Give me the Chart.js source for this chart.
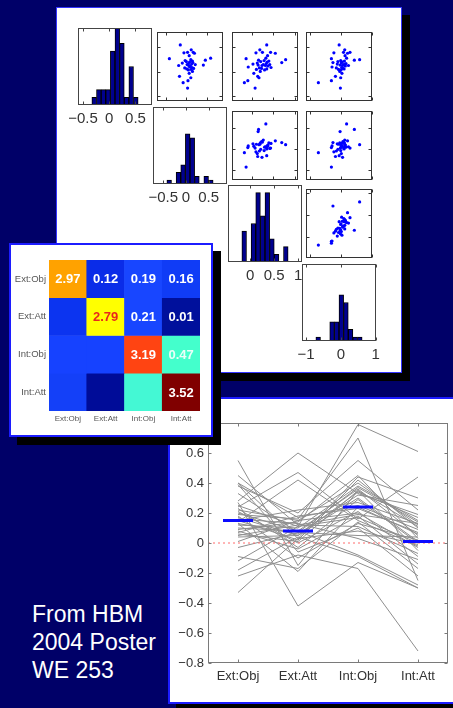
<!DOCTYPE html>
<html>
<head>
<meta charset="utf-8">
<script src="https://cdn.jsdelivr.net/npm/chart.js@4.4.0/dist/chart.umd.min.js"></script>
<style>
  html, body { margin: 0; padding: 0; }
  body { width: 453px; height: 708px; background: #000068; position: relative; overflow: hidden;
         font-family: "Liberation Sans", Arial, sans-serif; }
  .panel { position: absolute; background: #fff; box-sizing: border-box; box-shadow: 8px 8px 0 #000; }
  canvas { position: absolute; }
  #note { position: absolute; left: 32px; top: 600px; color: #fff; font-size: 23px; line-height: 28px; }
</style>
</head>
<body>
<div class="panel" id="matrixPanel" style="left:56px;top:7px;width:346px;height:366px;border:1px solid #3434ff"></div>
<div class="panel" id="linePanel" style="left:168px;top:397px;width:300px;height:307px;border:2px solid #1c1cff"></div>
<div class="panel" id="heatPanel" style="left:9px;top:243px;width:204px;height:194px;border:2px solid #1c1cff"></div>
<div id="note">From HBM<br>2004 Poster<br>WE 253</div>
<script>
// conditions
const condLabels = ['Ext:Obj', 'Ext:Att', 'Int:Obj', 'Int:Att'];

// one value per subject and condition
const extObj = [0.55, 0.45, 0.40, 0.40, 0.39, 0.38, 0.33, 0.28, 0.27, 0.25, 0.24, 0.23, 0.22, 0.21, 0.20, 0.19, 0.18, 0.17, 0.16, 0.15,
                0.15, 0.14, 0.13, 0.13, 0.12, 0.10, 0.09, 0.08, 0.07, 0.06, 0.05, 0.04, 0.01, -0.03, -0.09, -0.12, -0.18, -0.22, -0.33];
const extAtt = [-0.15, 0.12, 0.03, 0.17, -0.06, 0.20, 0.07, 0.60, -0.42, 0.11, 0.47, -0.03, 0.15, 0.00, 0.08, 0.16, -0.10, 0.05, 0.13, 0.22,
                0.02, 0.42, 0.06, -0.19, 0.10, 0.08, 0.14, -0.04, 0.18, 0.01, 0.12, 0.05, 0.15, 0.07, -0.17, 0.11, 0.04, -0.08, 0.03];
const intObj = [0.35, 0.19, 0.44, 0.25, 0.10, 0.55, 0.37, 0.33, -0.13, 0.79, 0.16, 0.29, 0.40, 0.21, 0.36, 0.70, 0.13, 0.34, 0.03, 0.27,
                0.42, 0.15, 0.32, 0.24, 0.38, -0.08, 0.45, 0.18, 0.23, 0.35, 0.11, 0.30, 0.20, 0.05, 0.14, 0.17, -0.09, -0.17, 0.08];
const intAtt = [-0.05, 0.13, 0.30, 0.09, -0.22, 0.22, 0.14, 0.19, -0.30, 0.61, 0.44, 0.00, 0.12, -0.09, 0.05, -0.25, 0.02, 0.17, -0.11, 0.13,
                0.10, -0.02, 0.25, 0.06, 0.15, -0.28, 0.03, -0.14, 0.07, 0.11, -0.07, 0.01, -0.03, 0.04, -0.17, 0.00, -0.30, -0.72, -0.01];

// histogram counts (10 bins over each condition's range)
const histExtObj = [1, 2, 2, 2, 7, 10, 8, 1, 5, 1];
const histExtAtt = [1, 0, 3, 5, 13, 12, 2, 0, 2, 1];
const histIntObj = [4, 0, 5, 9, 6, 9, 3, 1, 0, 2];
const histIntAtt = [1, 0, 0, 5, 5, 12, 10, 3, 1, 1];

// group means (blue bars)
const meanValues = [0.15, 0.08, 0.24, 0.01];

// matrix shown in the coloured table
const covValues = [
  [2.97, 0.12, 0.19, 0.16],
  [0.12, 2.79, 0.21, 0.01],
  [0.19, 0.21, 3.19, 0.47],
  [0.16, 0.01, 0.47, 3.52]
];

// styles
const cellColors = [
  ['#ffa200', '#0a2ce8', '#1846ff', '#103cf6'],
  ['#0c34f0', '#ffff00', '#1846ff', '#00109c'],
  ['#1642ff', '#1642ff', '#ff4412', '#44ffcc'],
  ['#1440f8', '#000c98', '#44f8d4', '#800000']
];
const cellTextColors = [
  ['#fff', '#fff', '#fff', '#fff'],
  ['#fff', '#e8281c', '#fff', '#fff'],
  ['#fff', '#fff', '#fff', '#eafff8'],
  ['#fff', '#fff', '#fff', '#fff']
];
const tickSteps = [0.5, 0.5, 0.5, 1];
const histTop = [10, 20, 10, 20];

const conds = [extObj, extAtt, intObj, intAtt];
const hists = [histExtObj, histExtAtt, histIntObj, histIntAtt];

Chart.defaults.font.family = '"Liberation Sans", Arial, sans-serif';

function addCanvas(before, left, top, w, h) {
  const c = document.createElement('canvas');
  c.width = w;
  c.height = h;
  c.style.left = left + 'px';
  c.style.top = top + 'px';
  c.style.width = w + 'px';
  c.style.height = h + 'px';
  document.body.insertBefore(c, before);
  return c;
}

function baseOptions() {
  return {
    responsive: false,
    animation: false,
    events: [],
    devicePixelRatio: 1,
    plugins: { legend: { display: false }, tooltip: { enabled: false } }
  };
}

function fmt(v) {
  const r = Math.round(v * 100) / 100;
  return (r < 0 ? '\u2212' : '') + Math.abs(r);
}

// ticks on every multiple of step inside the axis limits
function stepTicks(step) {
  return function (scale) {
    const out = [];
    for (let k = Math.ceil(scale.min / step - 1e-9); k * step <= scale.max + 1e-9; k++) {
      out.push({ value: Math.round(k * step * 1e6) / 1e6 });
    }
    scale.ticks = out;
  };
}

// axis box with small inward tick marks, like matlab
function frame(color, markX, markY) {
  return {
    id: 'frame',
    afterDatasetsDraw(chart) {
      const ctx = chart.ctx;
      const a = chart.chartArea;
      const L = Math.round(a.left) + 0.5, R = Math.round(a.right) - 0.5;
      const T = Math.round(a.top) + 0.5, B = Math.round(a.bottom) - 0.5;
      ctx.save();
      ctx.strokeStyle = color;
      ctx.lineWidth = 1;
      ctx.strokeRect(L, T, R - L, B - T);
      ctx.beginPath();
      if (markX) {
        chart.scales.x.ticks.forEach(t => {
          const x = Math.round(chart.scales.x.getPixelForValue(t.value)) + 0.5;
          ctx.moveTo(x, T); ctx.lineTo(x, T + 3);
          ctx.moveTo(x, B); ctx.lineTo(x, B - 3);
        });
      }
      if (markY) {
        chart.scales.y.ticks.forEach(t => {
          const y = Math.round(chart.scales.y.getPixelForValue(t.value)) + 0.5;
          ctx.moveTo(L, y); ctx.lineTo(L + 3, y);
          ctx.moveTo(R, y); ctx.lineTo(R - 3, y);
        });
      }
      ctx.stroke();
      ctx.restore();
    }
  };
}

// ---------- scatter plot matrix ----------
const lims = conds.map(a => {
  const lo = Math.min(...a), hi = Math.max(...a), pad = (hi - lo) * 0.3;
  return [lo - pad, hi + pad];
});

function hiddenAxis(k) {
  return {
    type: 'linear',
    min: lims[k][0],
    max: lims[k][1],
    ticks: { display: false },
    grid: { display: false, drawTicks: false },
    border: { display: false },
    afterBuildTicks: stepTicks(tickSteps[k]),
    afterFit: s => { if (s.isHorizontal()) s.height = 0; else s.width = 0; }
  };
}

const colLeft = [78, 153, 228, 302];
const rowTop = [28, 107, 185, 264];
const cellW = 74, cellH = 77, padX = 24;
const linePanel = document.getElementById('linePanel');

for (let i = 0; i < 4; i++) {
  // histogram on the diagonal
  const arr = conds[i];
  const lo = Math.min(...arr), hi = Math.max(...arr), w = (hi - lo) / 10;
  const hc = addCanvas(linePanel, colLeft[i] - padX, rowTop[i], cellW + 2 * padX, cellH + 26);
  const hOpts = baseOptions();
  hOpts.layout = { padding: { left: padX, right: padX, top: 0, bottom: 0 } };
  hOpts.scales = {
    x: {
      type: 'linear', offset: false, min: lims[i][0], max: lims[i][1],
      ticks: { color: '#333', padding: 5, font: { size: 15 }, maxRotation: 0, autoSkip: false, callback: v => fmt(v) },
      grid: { display: false, drawTicks: false },
      border: { display: false },
      afterBuildTicks: stepTicks(tickSteps[i]),
      afterFit: s => { s.height = 26; }
    },
    y: {
      min: 0, max: histTop[i],
      ticks: { display: false },
      grid: { display: false, drawTicks: false },
      border: { display: false },
      afterFit: s => { s.width = 0; }
    }
  };
  new Chart(hc, {
    type: 'bar',
    data: {
      datasets: [{
        data: hists[i].map((c, b) => ({ x: lo + (b + 0.5) * w, y: c })),
        backgroundColor: '#00008f',
        borderColor: '#000',
        borderWidth: 1,
        borderSkipped: false,
        barPercentage: 1,
        categoryPercentage: 1
      }]
    },
    options: hOpts,
    plugins: [frame('#444', true, false)]
  });

  // scatter plots above the diagonal
  for (let j = i + 1; j < 4; j++) {
    const sc = addCanvas(linePanel, colLeft[j], rowTop[i], cellW, cellH);
    const sOpts = baseOptions();
    sOpts.layout = { padding: 0 };
    sOpts.scales = { x: hiddenAxis(j), y: hiddenAxis(i) };
    new Chart(sc, {
      type: 'scatter',
      data: {
        datasets: [{
          data: conds[j].map((v, k) => ({ x: v, y: conds[i][k] })),
          pointRadius: 1.6,
          pointBorderWidth: 0,
          pointBackgroundColor: '#0000ff'
        }]
      },
      options: sOpts,
      plugins: [frame('#333', true, true)]
    });
  }
}

// ---------- subject lines ----------
const heatPanel = document.getElementById('heatPanel');
const lc = addCanvas(heatPanel, 170, 400, 283, 300);
const lineSets = extObj.map((_, s) => ({
  data: conds.map((arr, c) => ({ x: c, y: arr[s] })),
  showLine: true,
  borderColor: '#8e8e8e',
  borderWidth: 1,
  pointRadius: 0,
  order: 2
}));
lineSets.push({
  data: [{ x: -0.5, y: 0 }, { x: 3.5, y: 0 }],
  showLine: true,
  borderColor: '#ff6a6a',
  borderDash: [2, 3],
  borderWidth: 1,
  pointRadius: 0,
  order: 1
});
meanValues.forEach((m, c) => {
  lineSets.push({
    data: [{ x: c - 0.25, y: m }, { x: c + 0.25, y: m }],
    showLine: true,
    borderColor: '#0c0cff',
    borderWidth: 3,
    pointRadius: 0,
    order: 0
  });
});
const lOpts = baseOptions();
lOpts.layout = { padding: { left: 0, right: 5, top: 23, bottom: 7 } };
lOpts.scales = {
  x: {
    type: 'linear', min: -0.5, max: 3.5,
    afterBuildTicks: s => { s.ticks = condLabels.map((l, i) => ({ value: i })); },
    ticks: { color: '#333', padding: 6, font: { size: 13 }, maxRotation: 0, autoSkip: false, callback: (v, i) => condLabels[i] },
    grid: { display: false, drawTicks: false },
    border: { display: false },
    afterFit: s => { s.height = 30; }
  },
  y: {
    min: -0.8, max: 0.8,
    afterBuildTicks: stepTicks(0.2),
    ticks: { color: '#333', padding: 4, font: { size: 13 }, autoSkip: false,
             callback: v => { const r = Math.round(v * 10) / 10; return (r < 0 ? '\u2212' : '') + Math.abs(r); } },
    grid: { display: false, drawTicks: false },
    border: { display: false },
    afterFit: s => { s.width = 38; }
  }
};
new Chart(lc, {
  type: 'scatter',
  data: { datasets: lineSets },
  options: lOpts,
  plugins: [frame('#7a7a7a', true, true)]
});

// ---------- coloured matrix ----------
const note = document.getElementById('note');
const hm = addCanvas(note, 11, 245, 199, 190);
const cellText = {
  id: 'cellText',
  afterDatasetsDraw(chart) {
    const ctx = chart.ctx;
    ctx.save();
    ctx.font = 'bold 13px "Liberation Sans", Arial, sans-serif';
    ctx.textAlign = 'center';
    ctx.textBaseline = 'middle';
    chart.data.datasets.forEach((ds, i) => {
      chart.getDatasetMeta(i).data.forEach((el, j) => {
        if (j < i) return;
        ctx.fillStyle = cellTextColors[i][j];
        ctx.fillText(covValues[i][j].toFixed(2), el.x, (el.y + el.base) / 2 + 1);
      });
    });
    ctx.restore();
  }
};
const mOpts = baseOptions();
mOpts.layout = { padding: { left: 0, right: 10, top: 15, bottom: 4 } };
mOpts.scales = {
  x: {
    stacked: true,
    ticks: { color: '#555', padding: 3, font: { size: 8 }, maxRotation: 0, autoSkip: false },
    grid: { display: false, drawTicks: false },
    border: { display: false },
    afterFit: s => { s.height = 20; }
  },
  y: {
    stacked: true, min: 0, max: 4, reverse: true,
    afterBuildTicks: s => { s.ticks = condLabels.map((l, i) => ({ value: i + 0.5 })); },
    ticks: { color: '#555', padding: 3, font: { size: 9.5 }, autoSkip: false, callback: (v, i) => condLabels[i] },
    grid: { display: false, drawTicks: false },
    border: { display: false },
    afterFit: s => { s.width = 38; }
  }
};
new Chart(hm, {
  type: 'bar',
  data: {
    labels: condLabels,
    datasets: covValues.map((row, i) => ({
      data: row.map(() => 1),
      backgroundColor: cellColors[i],
      borderWidth: 0,
      barPercentage: 1,
      categoryPercentage: 1
    }))
  },
  options: mOpts,
  plugins: [cellText]
});
</script>
</body>
</html>
